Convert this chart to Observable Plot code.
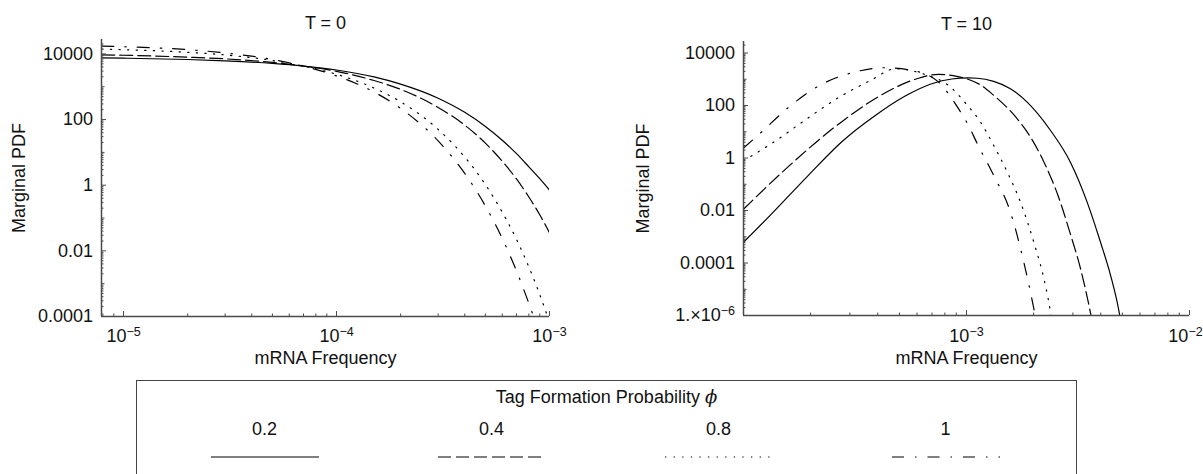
<!DOCTYPE html>
<html>
<head>
<meta charset="utf-8">
<script src="https://cdn.jsdelivr.net/npm/d3@7"></script>
<script src="https://cdn.jsdelivr.net/npm/@observablehq/plot@0.6"></script>
<style>
  html, body { margin: 0; padding: 0; background: #fff; }
  body { width: 1203px; height: 474px; overflow: hidden; font-family: "Liberation Sans", Arial, Helvetica, sans-serif; color: #111; }
  #wrap { position: relative; width: 1203px; height: 474px; }
  #left { position: absolute; left: 0; top: 0; width: 590px; }
  #right { position: absolute; left: 600px; top: 0; width: 603px; }
  #left svg, #right svg { max-width: none; display: block; }
  #legend { position: absolute; left: 136px; top: 380px; width: 941px; height: 130px; border: 1.5px solid #444; box-sizing: border-box; }
  .lg { position: absolute; font-size: 18px; line-height: 20px; white-space: nowrap; }
  .phi { font-family: "DejaVu Serif", "Liberation Serif", serif; font-style: italic; }
</style>
</head>
<body>
<div id="wrap">
  <div id="left"></div>
  <div id="right"></div>
  <div id="legend"></div>
</div>
<script>
// ---------------- data ----------------
const phiLabels = ["0.2", "0.4", "0.8", "1"];
const dashPatterns = [null, "13,5", "1.3,7.3", "12,11,1.5,11"];

// T = 0 panel
const t0X = [7.9e-6, 1e-5, 2e-5, 3e-5, 5e-5, 7e-5, 1e-4, 1.5e-4, 2e-4, 3e-4, 4e-4, 5e-4, 6e-4, 7e-4, 8e-4, 9e-4, 1e-3];
const t0Phi02 = [7586, 7413, 6761, 6166, 5129, 4266, 3236, 1995, 1202, 447, 166, 61.7, 23.4, 9.12, 3.63, 1.58, 0.708];
const t0Phi04 = [9333, 9120, 7943, 7079, 5495, 4266, 2951, 1549, 832, 234, 67.6, 19.1, 5.37, 1.55, 0.437, 0.126, 0.0355];
const t0Phi08 = [14125, 13490, 11220, 9333, 6310, 4266, 2399, 912, 347, 50.1, 7.24, 1.047, 0.151, 0.0224, 3.24e-3, 4.68e-4, 6.76e-5];
const t0Phi1X = [7.9e-6, 1e-5, 2e-5, 3e-5, 5e-5, 7e-5, 1e-4, 1.5e-4, 2e-4, 3e-4, 4e-4, 5e-4, 6e-4, 7e-4, 8e-4, 8.5e-4];
const t0Phi1 = [17378, 16596, 13490, 10715, 6761, 4266, 2138, 692, 219, 22.4, 2.29, 0.234, 0.024, 2.45e-3, 2.51e-4, 8.13e-5];

// T = 10 panel
const t10Phi02X = [1.0e-4, 1.34e-4, 1.954e-4, 2.761e-4, 3.899e-4, 5.309e-4, 6.982e-4, 8.59e-4, 1.021e-3, 1.117e-3, 1.324e-3, 1.574e-3, 1.871e-3, 2.382e-3, 2.924e-3, 3.475e-3, 3.99e-3, 4.426e-3, 4.819e-3, 4.955e-3];
const t10Phi02 = [6.17e-4, 7.59e-3, 0.219, 4.17, 41.7, 229, 676, 1023, 1122, 1096, 832, 437, 135, 11.2, 0.692, 0.0209, 6.17e-4, 3.39e-5, 1.58e-6, 3.98e-7];
const t10Phi04X = [1.0e-4, 1.592e-4, 2.667e-4, 4.169e-4, 5.888e-4, 7.482e-4, 8.71e-4, 1.023e-3, 1.148e-3, 1.324e-3, 1.629e-3, 1.936e-3, 2.223e-3, 2.553e-3, 2.924e-3, 3.243e-3, 3.597e-3, 3.673e-3];
const t10Phi04 = [0.0112, 0.479, 19.5, 257, 1000, 1549, 1380, 977, 631, 245, 44.7, 6.31, 0.708, 0.0447, 1.26e-3, 6.31e-5, 1.26e-6, 5.0e-7];
const t10Phi08X = [1.0e-4, 1.34e-4, 1.892e-4, 2.667e-4, 3.758e-4, 4.786e-4, 6.531e-4, 8.299e-4, 1.0e-3, 1.156e-3, 1.324e-3, 1.524e-3, 1.746e-3, 2.004e-3, 2.223e-3, 2.366e-3, 2.41e-3];
const t10Phi08 = [0.794, 3.63, 28.2, 200, 955, 2512, 1514, 589, 112, 23.4, 3.02, 0.288, 0.0209, 6.17e-4, 2.51e-5, 1.82e-6, 6.31e-7];
const t10Phi1X = [1.0e-4, 1.208e-4, 1.592e-4, 2.244e-4, 3.17e-4, 4.315e-4, 5.689e-4, 7.482e-4, 8.299e-4, 9.204e-4, 1.021e-3, 1.117e-3, 1.324e-3, 1.574e-3, 1.807e-3, 2.004e-3, 2.042e-3];
const t10Phi1 = [2.40, 10.0, 85.1, 646, 1905, 2754, 2188, 794, 282, 75.9, 17.4, 3.55, 0.219, 8.71e-3, 1.07e-4, 1.82e-6, 7.94e-7];

// axes
const t0XDomain = [7.88e-6, 1e-3];
const t10XDomain = [1e-4, 1e-2];
const t0YDomain = [1e-4, 27500];
const t10YDomain = [1e-6, 27500];
const t0XTicks = [1e-5, 1e-4, 1e-3];
const t0XTickLabels = ["10^-5", "10^-4", "10^-3"];
const t10XTicks = [1e-3, 1e-2];
const t10XTickLabels = ["10^-3", "10^-2"];
const t0YTicks = [1e-4, 1e-2, 1, 100, 1e4];
const t0YTickLabels = ["0.0001", "0.01", "1", "100", "10000"];
const t10YTicks = [1e-6, 1e-4, 1e-2, 1, 100, 1e4];
const t10YTickLabels = ["1.\u00d710^-6", "0.0001", "0.01", "1", "100", "10000"];

// ---------------- helpers ----------------
const FONT = '"Liberation Sans", Arial, Helvetica, sans-serif';
const H = 380;

function zipSeries(xs, ys, phi) { return xs.map((x, i) => ({x, y: ys[i], phi})); }

function logMinor(domain) {
  const out = [];
  const lo = Math.floor(Math.log10(domain[0])), hi = Math.ceil(Math.log10(domain[1]));
  for (let e = lo; e <= hi; e++) for (let k = 1; k <= 9; k++) {
    const v = +(k * Math.pow(10, e)).toPrecision(6);
    if (v >= domain[0] * 0.9999 && v <= domain[1] * 1.0001) out.push(v);
  }
  return out;
}

function superscripts(svg, shiftText) {
  const NS = "http://www.w3.org/2000/svg";
  svg.querySelectorAll("text").forEach(t => {
    const s = t.textContent;
    const i = s.indexOf("^");
    if (i < 0 || t.children.length > 0) return;
    if (shiftText && s === shiftText) t.setAttribute("dx", "-4");
    const base = s.slice(0, i), exp = s.slice(i + 1).replace("-", "\u2212");
    t.textContent = "";
    const a = document.createElementNS(NS, "tspan"); a.textContent = base;
    const b = document.createElementNS(NS, "tspan"); b.textContent = exp;
    b.setAttribute("dy", "-6"); b.setAttribute("font-size", "12.5");
    t.append(a, b);
  });
}

function panel(o) {
  const fh = H - o.mt - o.mb, fw = o.width - o.ml - o.mr;
  const xMinor = logMinor(o.xDomain), yMinor = logMinor(o.yDomain);
  const yMajor = o.yTicks;
  const yDecades = yMinor.filter(v => Math.abs(Math.log10(v) - Math.round(Math.log10(v))) < 1e-9 && !yMajor.includes(v));
  const ySmall = yMinor.filter(v => !yMajor.includes(v) && !yDecades.includes(v));
  const xMajor = o.xTicks;
  const xSmall = xMinor.filter(v => !xMajor.includes(v));
  const axisCol = "#4a4a4a";
  const svg = Plot.plot({
    width: o.width, height: H,
    marginLeft: o.ml, marginRight: o.mr, marginTop: o.mt, marginBottom: o.mb,
    style: {fontFamily: FONT, fontSize: "18px", color: "#111", background: "white", overflow: "visible"},
    x: {type: "log", domain: o.xDomain},
    y: {type: "log", domain: o.yDomain},
    marks: [
      ...o.series.map((s, i) => Plot.line(s, {
        x: "x", y: "y", stroke: "#000", strokeWidth: 1.2,
        strokeDasharray: dashPatterns[i] || undefined, curve: "monotone-x", clip: true
      })),
      Plot.ruleX(xSmall, {x: d => d, stroke: axisCol, strokeWidth: 1, insetTop: fh - 2.5}),
      Plot.ruleX(xMajor, {x: d => d, stroke: axisCol, strokeWidth: 1, insetTop: fh - 5}),
      Plot.ruleY(ySmall, {y: d => d, stroke: axisCol, strokeWidth: 1, insetRight: fw - 2.5}),
      Plot.ruleY(yDecades, {y: d => d, stroke: axisCol, strokeWidth: 1, insetRight: fw - 3.5}),
      Plot.ruleY(yMajor, {y: d => d, stroke: axisCol, strokeWidth: 1, insetRight: fw - 5}),
      Plot.ruleX([o.xDomain[0]], {x: d => d, stroke: axisCol, strokeWidth: 1.5}),
      Plot.ruleY([o.yDomain[0]], {y: d => d, stroke: axisCol, strokeWidth: 1.5}),
      Plot.axisX({
        ticks: o.xTicks, tickSize: 0, tickPadding: o.xPad,
        tickFormat: d => o.xTickLabels[o.xTicks.indexOf(d)],
        fontSize: 18, fill: "#111",
        label: "mRNA Frequency", labelAnchor: "center", labelArrow: "none", labelOffset: o.xLabelOffset
      }),
      Plot.axisY({
        ticks: o.yTicks, tickSize: 0, tickPadding: 8.5,
        tickFormat: d => o.yTickLabels[o.yTicks.indexOf(d)],
        fontSize: 18, fill: "#111",
        label: "Marginal PDF", labelAnchor: "center", labelArrow: "none", labelOffset: o.yLabelOffset
      }),
      Plot.text([o.title], {text: d => d, frameAnchor: "top", lineAnchor: "bottom", dy: o.titleDy, fontSize: 18, fill: "#111"})
    ]
  });
  superscripts(svg, o.shiftText);
  return svg;
}

document.getElementById("left").append(panel({
  width: 590, ml: 101, mr: 41, mt: 39, mb: H - 316,
  xDomain: t0XDomain, yDomain: t0YDomain,
  xTicks: t0XTicks, xTickLabels: t0XTickLabels,
  yTicks: t0YTicks, yTickLabels: t0YTickLabels,
  xPad: 12.7, xLabelOffset: 47.7, yLabelOffset: 89, titleDy: -10.7,
  title: "T = 0",
  series: [
    zipSeries(t0X, t0Phi02, "0.2"),
    zipSeries(t0X, t0Phi04, "0.4"),
    zipSeries(t0X, t0Phi08, "0.8"),
    zipSeries(t0Phi1X, t0Phi1, "1")
  ]
}));

document.getElementById("right").append(panel({
  width: 603, ml: 143, mr: 14, mt: 41, mb: H - 315,
  xDomain: t10XDomain, yDomain: t10YDomain,
  xTicks: t10XTicks, xTickLabels: t10XTickLabels,
  yTicks: t10YTicks, yTickLabels: t10YTickLabels,
  xPad: 13.7, xLabelOffset: 48.7, yLabelOffset: 107, titleDy: -11.7,
  title: "T = 10", shiftText: "10^-2",
  series: [
    zipSeries(t10Phi02X, t10Phi02, "0.2"),
    zipSeries(t10Phi04X, t10Phi04, "0.4"),
    zipSeries(t10Phi08X, t10Phi08, "0.8"),
    zipSeries(t10Phi1X, t10Phi1, "1")
  ]
}));

// ---------------- legend ----------------
(function () {
  const lg = document.getElementById("legend");
  const title = document.createElement("div");
  title.className = "lg";
  title.style.left = "0"; title.style.width = "100%"; title.style.textAlign = "center"; title.style.top = "5.5px";
  title.innerHTML = 'Tag Formation Probability <span class="phi">\u03d5</span>';
  lg.append(title);
  const colW = 227, first = 127.5;
  phiLabels.forEach((lab, i) => {
    const cx = first + i * colW;
    const t = document.createElement("div");
    t.className = "lg";
    t.style.left = (cx - 50) + "px"; t.style.width = "100px"; t.style.textAlign = "center"; t.style.top = "37.5px";
    t.textContent = lab;
    lg.append(t);
    const NS = "http://www.w3.org/2000/svg";
    const s = document.createElementNS(NS, "svg");
    s.setAttribute("width", "108"); s.setAttribute("height", "6");
    s.style.position = "absolute"; s.style.left = (cx - 54) + "px"; s.style.top = "72.5px";
    const l = document.createElementNS(NS, "line");
    l.setAttribute("x1", "0"); l.setAttribute("x2", "108"); l.setAttribute("y1", "3"); l.setAttribute("y2", "3");
    l.setAttribute("stroke", "#000"); l.setAttribute("stroke-width", "1.2");
    if (dashPatterns[i]) l.setAttribute("stroke-dasharray", dashPatterns[i]);
    s.append(l);
    lg.append(s);
  });
})();
</script>
</body>
</html>
